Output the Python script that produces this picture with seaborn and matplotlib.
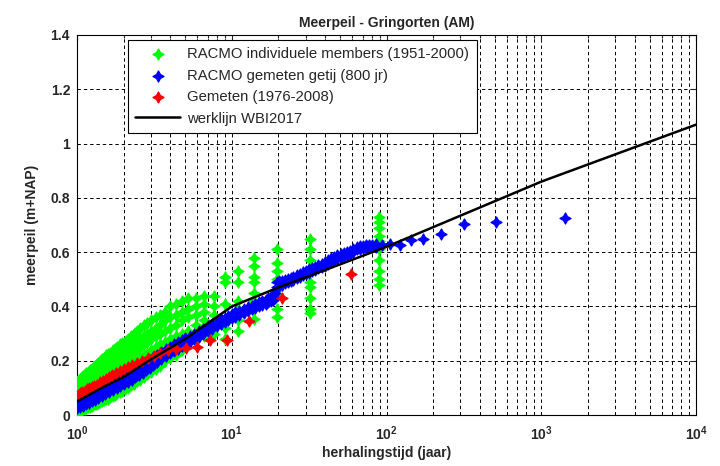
import numpy as np
import pandas as pd
import matplotlib
matplotlib.use("Agg")
import matplotlib.pyplot as plt
import seaborn as sns
from matplotlib.ticker import LogLocator, NullFormatter, FixedLocator

# --- data ---
# RACMO individuele members: Gringorten plotting positions (50 jaar) with member values
green_T = [89.5, 32.1, 19.6, 14.0, 10.99, 9.01, 7.64, 6.63, 5.86, 5.24,
           4.75, 4.34, 3.99, 3.70, 3.44, 3.22, 3.02, 2.85, 2.70, 2.56,
           2.44, 2.33, 2.22, 2.13, 2.04, 1.96, 1.89, 1.82, 1.76, 1.70,
           1.64, 1.59, 1.54, 1.49, 1.45, 1.41, 1.37, 1.335, 1.30, 1.27,
           1.24, 1.21, 1.18, 1.15, 1.125, 1.10, 1.076, 1.054, 1.032, 1.011]
green_y = [
    [0.73, 0.71, 0.69, 0.66, 0.64, 0.61, 0.57, 0.53, 0.50, 0.48],
    [0.65, 0.61, 0.57, 0.54, 0.49, 0.47, 0.43, 0.39, 0.375],
    [0.61, 0.56, 0.53, 0.50, 0.46, 0.44, 0.39, 0.36],
    [0.58, 0.55, 0.51, 0.49, 0.45, 0.42, 0.39, 0.355],
    [0.53, 0.49, 0.42, 0.39, 0.35, 0.31],
    [0.51, 0.49, 0.41, 0.34, 0.32, 0.28],
    [0.44, 0.40, 0.37, 0.33, 0.30],
    [0.44, 0.41, 0.38, 0.35, 0.29],
    [0.43, 0.40, 0.37, 0.33, 0.28],
    [0.43, 0.39, 0.36, 0.31, 0.27],
    [0.42, 0.38, 0.35, 0.30, 0.26, 0.24],
    [0.41, 0.37, 0.33, 0.29, 0.25, 0.22],
    [0.40, 0.36, 0.32, 0.28, 0.24, 0.21],
    [0.38, 0.35, 0.31, 0.27, 0.23, 0.20],
    [0.37, 0.33, 0.30, 0.26, 0.22, 0.18],
    [0.36, 0.32, 0.29, 0.25, 0.21, 0.17],
    [0.35, 0.31, 0.28, 0.24, 0.20, 0.16],
    [0.34, 0.30, 0.27, 0.23, 0.19, 0.15],
    [0.33, 0.29, 0.26, 0.22, 0.18, 0.14],
    [0.32, 0.28, 0.25, 0.21, 0.17, 0.13],
    [0.31, 0.27, 0.24, 0.20, 0.16, 0.125],
    [0.30, 0.265, 0.23, 0.19, 0.15, 0.115],
    [0.29, 0.255, 0.22, 0.18, 0.145, 0.11],
    [0.28, 0.245, 0.21, 0.17, 0.135, 0.10],
    [0.27, 0.235, 0.20, 0.165, 0.13, 0.095],
    [0.265, 0.23, 0.195, 0.16, 0.125, 0.09],
    [0.26, 0.225, 0.19, 0.155, 0.12, 0.085],
    [0.25, 0.215, 0.18, 0.145, 0.11, 0.08],
    [0.245, 0.21, 0.175, 0.14, 0.105, 0.075],
    [0.24, 0.205, 0.17, 0.135, 0.10, 0.07],
    [0.23, 0.195, 0.16, 0.13, 0.095, 0.065],
    [0.225, 0.19, 0.155, 0.125, 0.09, 0.06],
    [0.22, 0.185, 0.15, 0.12, 0.085, 0.058],
    [0.21, 0.18, 0.145, 0.115, 0.08, 0.055],
    [0.205, 0.175, 0.14, 0.11, 0.075, 0.05],
    [0.20, 0.17, 0.135, 0.105, 0.07, 0.048],
    [0.19, 0.16, 0.13, 0.10, 0.068, 0.045],
    [0.185, 0.155, 0.125, 0.095, 0.065, 0.042],
    [0.18, 0.15, 0.12, 0.09, 0.062, 0.04],
    [0.175, 0.145, 0.115, 0.085, 0.06, 0.037],
    [0.17, 0.14, 0.11, 0.08, 0.057, 0.034],
    [0.165, 0.135, 0.105, 0.075, 0.053, 0.031],
    [0.16, 0.13, 0.10, 0.07, 0.05, 0.028],
    [0.155, 0.125, 0.095, 0.068, 0.047, 0.026],
    [0.15, 0.12, 0.09, 0.065, 0.044, 0.024],
    [0.145, 0.115, 0.085, 0.062, 0.04, 0.022],
    [0.14, 0.11, 0.08, 0.058, 0.037, 0.02],
    [0.135, 0.105, 0.078, 0.055, 0.034, 0.018],
    [0.13, 0.10, 0.075, 0.052, 0.031, 0.016],
    [0.125, 0.095, 0.07, 0.048, 0.028, 0.014],
]

# RACMO gemeten getij (800 jr): dense band (lower / upper edge) and the sparse top
blue_band_T = [1.0, 1.05, 1.1, 1.15, 1.2, 1.25, 1.3, 1.37, 1.45, 1.52, 1.6, 1.7,
               1.8, 1.9, 2.0, 2.12, 2.25, 2.37, 2.5, 2.65, 2.8, 2.95, 3.1, 3.3,
               3.5, 3.75, 4.0, 4.25, 4.5, 4.75, 5.0, 5.35, 5.7, 6.1, 6.5, 7.0,
               7.5, 8.0, 8.5, 9.0, 9.5, 10.0, 10.5, 11.2, 12, 12.7, 13.5, 14.2,
               15, 15.7, 16.5, 17.2, 18, 18.5, 19, 19.6, 20.3, 21, 22, 23, 24,
               25, 26.2, 27.5, 28.7, 30, 31.5, 33, 34.5, 36, 38, 40, 42, 44, 46,
               48, 50.5, 53, 55.5, 58, 61, 64, 67, 70, 73.5, 77, 81, 85]
blue_band_lo = [0.025, 0.03, 0.035, 0.04, 0.045, 0.05, 0.055, 0.062, 0.07, 0.077,
                0.085, 0.092, 0.10, 0.108, 0.115, 0.122, 0.13, 0.139, 0.148, 0.156,
                0.165, 0.174, 0.183, 0.194, 0.205, 0.217, 0.228, 0.237, 0.245,
                0.253, 0.26, 0.27, 0.28, 0.289, 0.298, 0.308, 0.318, 0.327, 0.335,
                0.343, 0.35, 0.356, 0.362, 0.368, 0.375, 0.383, 0.39, 0.395, 0.40,
                0.405, 0.41, 0.415, 0.42, 0.425, 0.43, 0.47, 0.475, 0.48, 0.485,
                0.49, 0.494, 0.498, 0.504, 0.51, 0.515, 0.52, 0.525, 0.53, 0.535,
                0.54, 0.545, 0.55, 0.558, 0.565, 0.57, 0.575, 0.58, 0.585, 0.59,
                0.595, 0.602, 0.61, 0.612, 0.615, 0.617, 0.618, 0.619, 0.62]
blue_band_hi = [0.045, 0.05, 0.055, 0.062, 0.068, 0.074, 0.08, 0.087, 0.095, 0.101,
                0.108, 0.117, 0.125, 0.133, 0.14, 0.149, 0.158, 0.166, 0.175, 0.185,
                0.195, 0.203, 0.212, 0.222, 0.232, 0.242, 0.252, 0.26, 0.268,
                0.276, 0.283, 0.292, 0.30, 0.309, 0.318, 0.327, 0.336, 0.344,
                0.352, 0.359, 0.366, 0.372, 0.378, 0.384, 0.39, 0.397, 0.403,
                0.409, 0.415, 0.42, 0.425, 0.43, 0.435, 0.442, 0.45, 0.49, 0.492,
                0.495, 0.499, 0.502, 0.506, 0.51, 0.515, 0.52, 0.526, 0.532,
                0.537, 0.542, 0.547, 0.552, 0.558, 0.565, 0.571, 0.577, 0.583,
                0.588, 0.593, 0.598, 0.602, 0.606, 0.613, 0.62, 0.622, 0.624,
                0.626, 0.627, 0.628, 0.63]
blue_top_T = [93, 105, 122, 143, 173, 224, 314, 510, 1424]
blue_top_y = [0.626, 0.63, 0.626, 0.644, 0.648, 0.666, 0.704, 0.712, 0.725]

# Gemeten (1976-2008)
red_T = [1.017, 1.049, 1.084, 1.12, 1.16, 1.202, 1.247, 1.296, 1.348, 1.406, 1.468,
         1.536, 1.61, 1.693, 1.784, 1.886, 2.0, 2.13, 2.27, 2.44, 2.64, 2.86, 3.13,
         3.46, 3.86, 4.38, 5.05, 5.96, 7.26, 9.3, 12.9, 21.2, 59.1]
red_y = [0.075, 0.08, 0.085, 0.09, 0.095, 0.10, 0.103, 0.107, 0.112, 0.12, 0.127,
         0.133, 0.14, 0.147, 0.155, 0.163, 0.17, 0.178, 0.185, 0.193, 0.20, 0.21,
         0.217, 0.228, 0.238, 0.245, 0.248, 0.25, 0.275, 0.275, 0.345, 0.43, 0.52]

# werklijn WBI2017
line_T = [1, 1.5, 2, 3, 5, 10, 20, 50, 100, 1000, 10000]
line_y = [0.05, 0.105, 0.14, 0.205, 0.28, 0.40, 0.47, 0.555, 0.62, 0.86, 1.07]

green_df = pd.DataFrame([(t, v) for t, ys in zip(green_T, green_y) for v in ys],
                        columns=["T", "y"])
blue_df = pd.DataFrame({"T": blue_band_T + blue_band_T + blue_top_T,
                        "y": blue_band_lo + blue_band_hi + blue_top_y})
red_df = pd.DataFrame({"T": red_T, "y": red_y})
line_df = pd.DataFrame({"T": line_T, "y": line_y})

sns.set_style("white")
plt.rcParams["font.family"] = ["Liberation Sans", "DejaVu Sans"]

fig = plt.figure(figsize=(7.2, 4.66), dpi=100)
ax = fig.add_axes([0.107, 0.1094, 0.860, 0.8155])

star = (4, 1, 0)
msize = 62
sns.scatterplot(data=green_df, x="T", y="y", ax=ax, color="#00ff00", marker=star,
                s=msize, linewidth=1.0, edgecolor="#00ff00",
                label="RACMO individuele members (1951-2000)", zorder=3)
sns.scatterplot(data=blue_df, x="T", y="y", ax=ax, color="#0000ff", marker=star,
                s=msize, linewidth=1.0, edgecolor="#0000ff",
                label="RACMO gemeten getij (800 jr)", zorder=4)
sns.scatterplot(data=red_df, x="T", y="y", ax=ax, color="#ff0000", marker=star,
                s=msize, linewidth=1.0, edgecolor="#ff0000",
                label="Gemeten (1976-2008)", zorder=5)
sns.lineplot(data=line_df, x="T", y="y", ax=ax, color="black", linewidth=1.8,
             label="werklijn WBI2017", zorder=6)

ax.set_xscale("log")
ax.set_xlim(1, 1e4)
ax.set_ylim(0, 1.4)
ax.xaxis.set_major_locator(LogLocator(base=10, numticks=10))
ax.xaxis.set_minor_locator(LogLocator(base=10, subs=np.arange(2, 10), numticks=20))
ax.xaxis.set_minor_formatter(NullFormatter())
ax.yaxis.set_major_locator(FixedLocator([0, 0.2, 0.4, 0.6, 0.8, 1.0, 1.2, 1.4]))
ax.set_yticklabels(["0", "0.2", "0.4", "0.6", "0.8", "1", "1.2", "1.4"])

ax.grid(True, which="major", axis="both", color="black", linestyle=(0, (3.5, 3)),
        linewidth=0.7)
ax.grid(True, which="minor", axis="x", color="black", linestyle=(0, (3.5, 3)),
        linewidth=0.7)
ax.set_axisbelow(True)

ax.tick_params(which="both", direction="in", top=True, right=True, length=4,
               width=0.8, labelsize=10, pad=5)
ax.tick_params(axis="x", which="major", pad=7)
ax.tick_params(which="minor", length=2.5)
for lab in ax.get_xticklabels() + ax.get_yticklabels():
    lab.set_fontweight("bold")
for sp in ax.spines.values():
    sp.set_color("black")
    sp.set_linewidth(0.8)

ax.set_title("Meerpeil - Gringorten (AM)", fontsize=10, fontweight="bold", pad=6)
ax.set_xlabel("herhalingstijd (jaar)", fontsize=10, fontweight="bold", labelpad=2)
ax.set_ylabel("meerpeil (m+NAP)", fontsize=10, fontweight="bold", labelpad=8)

leg = ax.legend(loc="upper left", bbox_to_anchor=(0.082, 0.987), borderaxespad=0,
                fontsize=10.7, frameon=True, fancybox=False, framealpha=1,
                edgecolor="black", handlelength=3.0, labelspacing=0.5,
                borderpad=0.5, handletextpad=0.5)
leg.get_frame().set_linewidth(0.8)

fig.savefig("out.png", dpi=100)
